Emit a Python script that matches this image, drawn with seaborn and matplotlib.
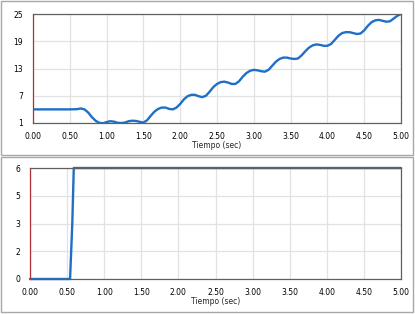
import numpy as np
import pandas as pd
import matplotlib
matplotlib.use("Agg")
import matplotlib.pyplot as plt
import seaborn as sns
from matplotlib.patches import Rectangle
from matplotlib.ticker import MultipleLocator

# ---- data ----
t_top = [0.0, 0.1, 0.2, 0.3, 0.4, 0.5, 0.6, 0.65, 0.7, 0.75, 0.8, 0.85, 0.9, 0.95,
         1.0, 1.05, 1.1, 1.15, 1.2, 1.25, 1.3, 1.35, 1.4, 1.45, 1.5, 1.55, 1.6, 1.65,
         1.7, 1.75, 1.8, 1.85, 1.9, 1.95, 2.0, 2.05, 2.1, 2.15, 2.2, 2.25, 2.3, 2.35,
         2.4, 2.45, 2.5, 2.55, 2.6, 2.65, 2.7, 2.75, 2.8, 2.85, 2.9, 2.95, 3.0, 3.05,
         3.1, 3.15, 3.2, 3.25, 3.3, 3.35, 3.4, 3.45, 3.5, 3.55, 3.6, 3.65, 3.7, 3.75,
         3.8, 3.85, 3.9, 3.95, 4.0, 4.05, 4.1, 4.15, 4.2, 4.25, 4.3, 4.35, 4.4, 4.45,
         4.5, 4.55, 4.6, 4.65, 4.7, 4.75, 4.8, 4.85, 4.9, 4.95, 5.0]
v_top = [4.0, 4.0, 4.0, 4.0, 4.0, 4.0, 4.05, 4.2, 4.0, 3.3, 2.3, 1.5, 1.05, 0.95,
         1.2, 1.4, 1.3, 1.05, 1.0, 1.1, 1.4, 1.5, 1.45, 1.25, 1.1, 1.6, 2.6, 3.5,
         4.1, 4.4, 4.4, 4.1, 4.0, 4.4, 5.2, 6.2, 6.9, 7.2, 7.2, 6.9, 6.7, 7.0,
         7.9, 8.9, 9.6, 10.0, 10.1, 9.9, 9.6, 9.6, 10.2, 11.2, 12.0, 12.5, 12.7, 12.6,
         12.4, 12.3, 12.7, 13.6, 14.5, 15.1, 15.4, 15.4, 15.2, 15.1, 15.2, 15.9, 16.8, 17.6,
         18.1, 18.3, 18.2, 18.0, 18.0, 18.4, 19.3, 20.2, 20.8, 21.0, 21.0, 20.8, 20.6, 20.7,
         21.4, 22.4, 23.2, 23.6, 23.7, 23.5, 23.3, 23.4, 24.0, 24.6, 25.0]

t_bot = [0.0, 0.54, 0.57, 0.59, 5.0]
v_bot = [0.0, 0.0, 3.0, 6.0, 6.0]

x_ticks = [0, 0.5, 1, 1.5, 2, 2.5, 3, 3.5, 4, 4.5, 5]
x_labels = ["0.00", "0.50", "1.00", "1.50", "2.00", "2.50", "3.00", "3.50", "4.00", "4.50", "5.00"]
y_top_ticks = [1, 7, 13, 19, 25]
y_top_labels = ["1", "7", "13", "19", "25"]
y_bot_ticks = [0, 1.5, 3, 4.5, 6]
y_bot_labels = ["0", "2", "3", "5", "6"]
x_title = "Tiempo (sec)"

# ---- figure ----
sns.set_style("white")
plt.rcParams['font.family'] = ['DejaVu Sans']
W, H = 415, 314
fig = plt.figure(figsize=(W / 100, H / 100), dpi=100)
fig.patch.set_facecolor("white")

def fx(px):
    return px / W

def fy(py):
    return 1 - py / H

# panel frames
for (x0, y0, x1, y1) in [(0.5, 0.5, 413, 155), (0.5, 157, 413, 312)]:
    fig.add_artist(Rectangle((fx(x0), fy(y1)), fx(x1 - x0), (y1 - y0) / H,
                             transform=fig.transFigure, fill=False,
                             edgecolor="#a8a8a8", linewidth=1.0))

line_color = "#1f6fc6"

def style_ax(ax, ylim, yticks, ylabels, yminor):
    ax.set_xlim(0, 5)
    ax.set_ylim(*ylim)
    ax.set_xticks(x_ticks)
    ax.set_xticklabels(x_labels, fontsize=5.5)
    ax.set_yticks(yticks)
    ax.set_yticklabels(ylabels, fontsize=5.5)
    ax.xaxis.set_minor_locator(MultipleLocator(0.25))
    ax.yaxis.set_minor_locator(MultipleLocator(yminor))
    ax.grid(True, which="major", color="#e2e2e2", linewidth=0.9)
    ax.set_axisbelow(True)
    for s in ["top", "right", "bottom"]:
        ax.spines[s].set_color("#606060")
        ax.spines[s].set_linewidth(0.9)
    ax.spines["left"].set_color("#b03030")
    ax.spines["left"].set_linewidth(0.9)
    ax.tick_params(axis="x", which="major", direction="inout", length=5, width=0.9,
                   color="#606060", pad=4, labelcolor="black")
    ax.tick_params(axis="x", which="minor", direction="inout", length=3, width=0.9,
                   color="#606060")
    ax.tick_params(axis="y", which="major", direction="inout", length=4, width=0.9,
                   color="#606060", pad=5, labelcolor="black")
    ax.tick_params(axis="y", which="minor", direction="inout", length=2.5, width=0.9,
                   color="#808080")
    ax.set_xlabel(x_title, fontsize=5.5, labelpad=0)
    ax.set_ylabel("")

# top axes
ax1 = fig.add_axes([fx(33), fy(123), fx(401 - 33), (123 - 14) / H])
df_top = pd.DataFrame({"t": t_top, "v": v_top})
sns.lineplot(data=df_top, x="t", y="v", ax=ax1, color=line_color, linewidth=1.7)
style_ax(ax1, (1, 25), y_top_ticks, y_top_labels, 3)

# bottom axes
ax2 = fig.add_axes([fx(30), fy(279), fx(401 - 30), (279 - 168) / H])
df_bot = pd.DataFrame({"t": t_bot, "v": v_bot})
sns.lineplot(data=df_bot, x="t", y="v", ax=ax2, color=line_color, linewidth=1.7,
             clip_on=False)
style_ax(ax2, (0, 6), y_bot_ticks, y_bot_labels, 0.75)

fig.savefig("out.png", dpi=100)
